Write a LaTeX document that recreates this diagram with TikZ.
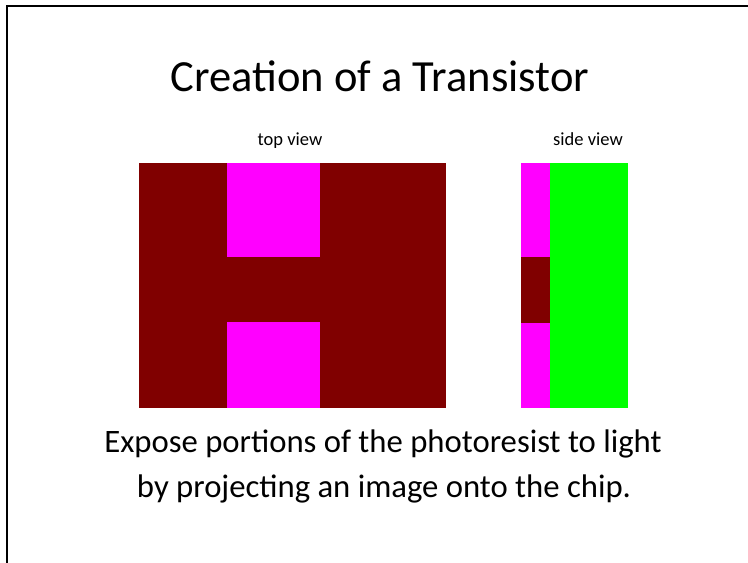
\documentclass[tikz,border=0pt]{standalone}
\usepackage{fontspec}
\setmainfont{Carlito}
\definecolor{polysi}{HTML}{800000}
\definecolor{resist}{HTML}{FF00FF}
\definecolor{substrate}{HTML}{00FF00}
\tikzset{
  label text/.style={anchor=base, inner sep=0pt, font=\fontsize{18.5}{22}\selectfont},
  body text/.style={anchor=base, inner sep=0pt, font=\fontsize{32.7}{38}\selectfont},
}
\begin{document}
\begin{tikzpicture}[x=1pt,y=-1pt]
\useasboundingbox (0,0) rectangle (748,563);
% slide frame (left and top edges)
\draw[line width=2pt] (7,563) -- (7,6) -- (748,6);

% title
\node[anchor=base, inner sep=0pt, font=\fontsize{44.5}{50}\selectfont] (title) at (380,91.5) {Creation of a Transistor};

% view captions
\node[label text] (toplbl) at (290,145) {top view};
\node[label text] (sidelbl) at (588,145) {side view};

% top view: polysilicon with two exposed photoresist windows
\fill[polysi] (139,163) rectangle (446,408);
\fill[resist] (227,163) rectangle (320,257);
\fill[resist] (227,322) rectangle (320,408);

% side view: resist/poly layer on substrate
\fill[resist] (521,163) rectangle (550,408);
\fill[polysi] (521,257) rectangle (550,323);
\fill[substrate] (550,163) rectangle (628,408);

% caption
\node[body text] (line1) at (383,452) {Expose portions of the photoresist to light};
\node[body text] (line2) at (384,497) {by projecting an image onto the chip.};
\end{tikzpicture}
\end{document}
